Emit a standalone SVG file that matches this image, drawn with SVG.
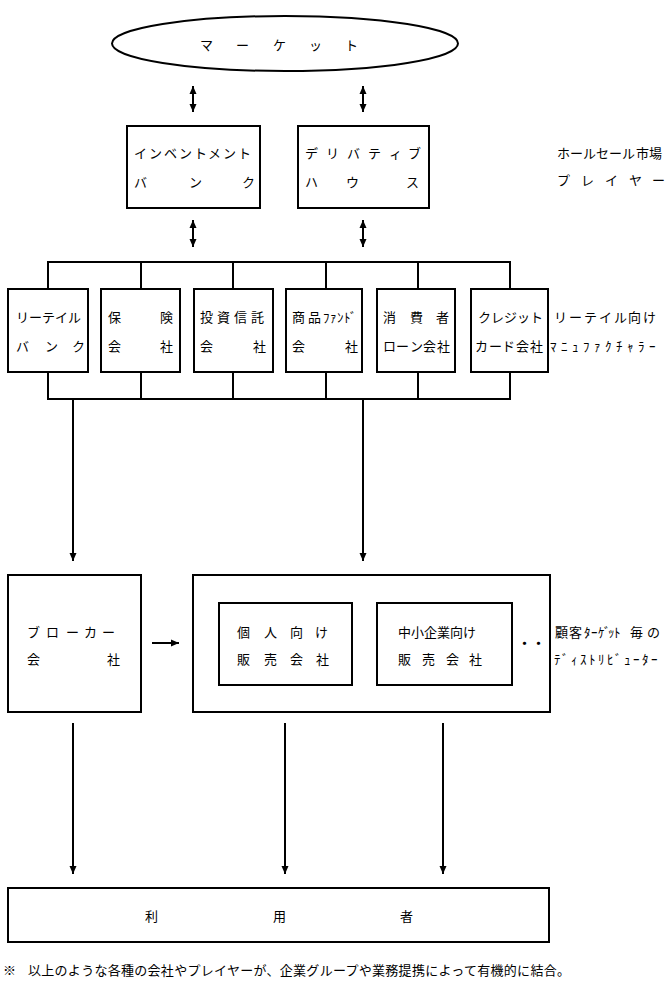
<svg xmlns="http://www.w3.org/2000/svg" width="667" height="992" viewBox="0 0 667 992">
<style>
.b{fill:#fff;stroke:#000;stroke-width:2}
.c{fill:none;stroke:#000;stroke-width:2}
.t{font-family:"Noto Sans CJK JP","Noto Sans CJK SC",sans-serif;font-size:13px;fill:#000}
</style>
<defs>
<marker id="ah" viewBox="0 0 8 8" refX="8" refY="4" markerWidth="8" markerHeight="8" markerUnits="userSpaceOnUse" orient="auto-start-reverse">
<path d="M0,0.5 L8,4 L0,7.5 z" fill="#000"/>
</marker>
</defs>
<rect width="667" height="992" fill="#fff"/>

<g id="connectors">
<line class="c" x1="193" y1="86" x2="193" y2="112" marker-start="url(#ah)" marker-end="url(#ah)"/>
<line class="c" x1="363" y1="86" x2="363" y2="112" marker-start="url(#ah)" marker-end="url(#ah)"/>
<line class="c" x1="193" y1="220" x2="193" y2="247" marker-start="url(#ah)" marker-end="url(#ah)"/>
<line class="c" x1="363" y1="220" x2="363" y2="247" marker-start="url(#ah)" marker-end="url(#ah)"/>
<path class="c" d="M48,289 V262 H510 V289 M141,262 V289 M233,262 V289 M326,262 V289 M418,262 V289"/>
<path class="c" d="M48,372 V399 H510 V372 M141,372 V399 M233,372 V399 M326,372 V399 M418,372 V399"/>
<line class="c" x1="73" y1="399" x2="73" y2="561" marker-end="url(#ah)"/>
<line class="c" x1="363" y1="399" x2="363" y2="561" marker-end="url(#ah)"/>
<line class="c" x1="152" y1="643" x2="179" y2="643" marker-end="url(#ah)"/>
<line class="c" x1="73" y1="723" x2="73" y2="874" marker-end="url(#ah)"/>
<line class="c" x1="285" y1="723" x2="285" y2="874" marker-end="url(#ah)"/>
<line class="c" x1="443" y1="723" x2="443" y2="874" marker-end="url(#ah)"/>
</g>

<g id="market">
<ellipse class="b" cx="285" cy="43.5" rx="173" ry="27.5"/>
<text class="t" x="200 236 273 309 345" y="50">マーケット</text>
</g>

<g id="investment-bank">
<rect class="b" x="127" y="126" width="133" height="82"/>
<text class="t" x="134 149 164 179 194 208 223 238" y="158">インベントメント</text>
<text class="t" x="134 189 242" y="187">バンク</text>
</g>

<g id="derivative-house">
<rect class="b" x="298" y="126" width="131" height="82"/>
<text class="t" x="305 326 347 368 389 408" y="158">デリバティブ</text>
<text class="t" x="305 346 406" y="187">ハウス</text>
</g>

<g id="wholesale-label">
<text class="t" x="557 570 583 596 609 622 636 649" y="158">ホールセール市場</text>
<text class="t" x="557 581 605 629 652" y="185">プレイヤー</text>
</g>

<g id="retail-bank">
<rect class="b" x="8" y="289" width="80" height="83"/>
<text class="t" x="16 29 42 55 68" y="322">リーテイル</text>
<text class="t" x="16 45 72" y="351">バンク</text>
</g>

<g id="insurance">
<rect class="b" x="101" y="289" width="79" height="83"/>
<text class="t" x="108 160" y="322">保険</text>
<text class="t" x="108 160" y="351">会社</text>
</g>

<g id="investment-trust">
<rect class="b" x="194" y="289" width="79" height="83"/>
<text class="t" x="200 217 234 251" y="322">投資信託</text>
<text class="t" x="200 253" y="351">会社</text>
</g>

<g id="commodity-fund">
<rect class="b" x="286" y="289" width="76" height="83"/>
<text class="t" x="292 308 323 330 337 344 350" y="322">商品ﾌｧﾝﾄﾞ</text>
<text class="t" x="292 345" y="351">会社</text>
</g>

<g id="consumer-loan">
<rect class="b" x="377" y="289" width="78" height="83"/>
<text class="t" x="383 410 436" y="322">消費者</text>
<text class="t" x="383 396 410 423 437" y="351">ローン会社</text>
</g>

<g id="credit-card">
<rect class="b" x="471" y="289" width="77" height="83"/>
<text class="t" x="478 491 504 517 530" y="322">クレジット</text>
<text class="t" x="475 489 502 516 530" y="351">カード会社</text>
</g>

<g id="retail-label">
<text class="t" x="554 569 584 599 614 628 643" y="322">リーテイル向け</text>
<text class="t" x="550 561 572 583 594 605 616 627 638 649" y="351">ﾏﾆｭﾌｧｸﾁｬﾗｰ</text>
</g>

<g id="broker">
<rect class="b" x="8" y="575" width="133" height="137"/>
<text class="t" x="27 46 66 84 102" y="637">ブローカー</text>
<text class="t" x="27 107" y="664">会社</text>
</g>

<g id="distributors">
<rect class="b" x="193" y="575" width="357" height="137"/>
<g id="individual-sales">
<rect class="b" x="219" y="603" width="133" height="82"/>
<text class="t" x="237 264 290 315" y="637">個人向け</text>
<text class="t" x="237 264 290 316" y="664">販売会社</text>
</g>
<g id="sme-sales">
<rect class="b" x="377" y="603" width="135" height="82"/>
<text class="t" x="398 411 424 437 450 463" y="637">中小企業向け</text>
<text class="t" x="398 422 446 469" y="664">販売会社</text>
</g>
<text class="t" x="518 532" y="648" font-weight="bold">・・</text>
</g>

<g id="distributor-label">
<text class="t" x="555 569 584 591 598 604 608 614 630 647" y="637">顧客ﾀｰｹﾞｯﾄ毎の</text>
<text class="t" x="554 562 571 580 589 598 607 615 624 633 642 651" y="664">ﾃﾞｨｽﾄﾘﾋﾞｭｰﾀｰ</text>
</g>

<g id="users">
<rect class="b" x="8" y="888" width="541" height="54"/>
<text class="t" x="145 273 400" y="921">利用者</text>
</g>

<g id="footnote">
<text class="t" x="3" y="975">※</text>
<text class="t" x="28" y="975" textLength="542" lengthAdjust="spacing">以上のような各種の会社やプレイヤーが、企業グループや業務提携によって有機的に結合。</text>
</g>
</svg>
